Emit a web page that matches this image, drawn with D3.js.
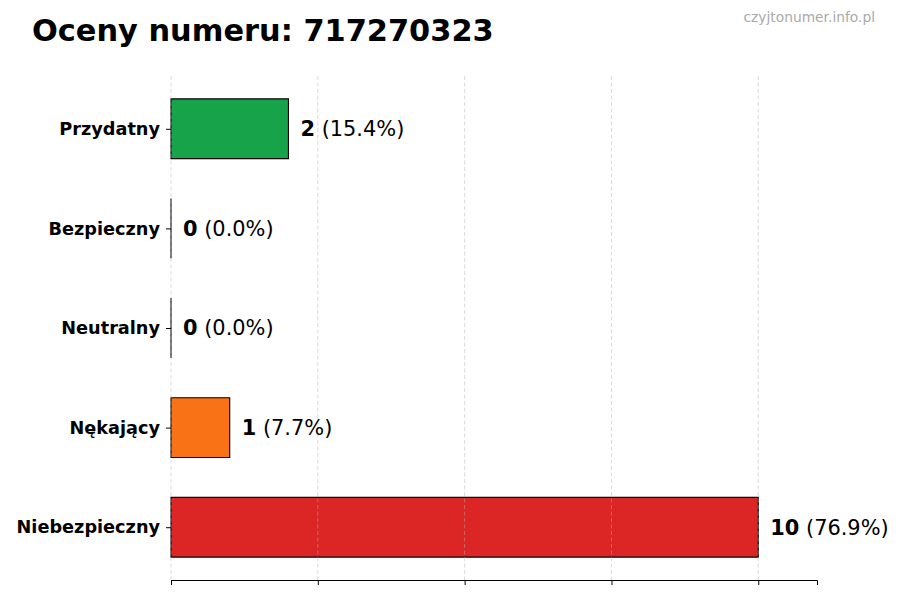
<!DOCTYPE html>
<html><head><meta charset="utf-8">
<script src="https://cdn.jsdelivr.net/npm/d3@7"></script>
<style>body{margin:0;background:#fff}svg{display:block;font-family:"DejaVu Sans",sans-serif}</style>
</head><body><svg id="c" width="900" height="600"></svg>
<script>
const categories = ["Niebezpieczny", "Nękający", "Neutralny", "Bezpieczny", "Przydatny"];
const counts = [10, 1, 0, 0, 2];
const percents = ["76.9%", "7.7%", "0.0%", "0.0%", "15.4%"];
const colors = ["#dc2626", "#f97316", "#9ca3af", "#3b82f6", "#16a34a"];
const xTicks = [0, 2.5, 5, 7.5, 10];
const titleText = "Oceny numeru: 717270323";
const watermark = "czyjtonumer.info.pl";

const svg = d3.select("#c");
const L = 171, R = 817, T = 76, B = 580;
const x = d3.scaleLinear().domain([0, 11]).range([L, R]);
const y = d3.scaleLinear().domain([-0.53, 4.53]).range([B, T]);
const bh = y(0) - y(0.6);

svg.append("text").attr("x", 32).attr("y", 41).attr("font-size", 30.4).attr("font-weight", "bold").attr("fill", "#000").text(titleText);
svg.append("text").attr("x", 875).attr("y", 22).attr("text-anchor", "end").attr("font-size", 13.8).attr("fill", "#aaa").text(watermark);

const g = svg.append("g");
g.selectAll("path.bar").data(categories).join("path").attr("class", "bar")
  .attr("d", (d, i) => {
    const p = d3.path();
    p.rect(x(0), y(i) - bh / 2, x(counts[i]) - x(0), bh);
    return p.toString();
  })
  .attr("fill", (d, i) => colors[i]).attr("stroke", "#000").attr("stroke-width", 1.1);

g.selectAll("line.grid").data(xTicks).join("line").attr("class", "grid")
  .attr("x1", d => x(d)).attr("x2", d => x(d)).attr("y1", T).attr("y2", B)
  .attr("stroke", "#b0b0b0").attr("stroke-opacity", 0.6).attr("stroke-width", 0.8).attr("stroke-dasharray", "4,2.5");

const xa = svg.append("g").attr("transform", `translate(0,${B})`)
  .call(d3.axisBottom(x).tickValues(xTicks).tickSize(5).tickFormat(""));
xa.select(".domain").attr("stroke", "#000").attr("stroke-width", 1);
xa.selectAll(".tick line").attr("stroke", "#000");

const ya = svg.append("g").attr("transform", `translate(${L},0)`)
  .call(d3.axisLeft(y).tickValues(d3.range(categories.length)).tickSize(5).tickPadding(6).tickFormat(i => categories[i]));
ya.select(".domain").remove();
ya.selectAll(".tick line").attr("stroke", "#000");
ya.selectAll(".tick text").attr("font-size", 17.7).attr("font-weight", "bold").attr("fill", "#000").attr("font-family", "DejaVu Sans");

const lab = svg.append("g").selectAll("text").data(categories).join("text")
  .attr("x", (d, i) => x(counts[i]) + 12).attr("y", (d, i) => y(i)).attr("dy", "0.35em")
  .attr("font-size", 20.9).attr("fill", "#000");
lab.append("tspan").attr("font-weight", "bold").text((d, i) => counts[i]);
lab.append("tspan").text((d, i) => " (" + percents[i] + ")");
</script></body></html>
